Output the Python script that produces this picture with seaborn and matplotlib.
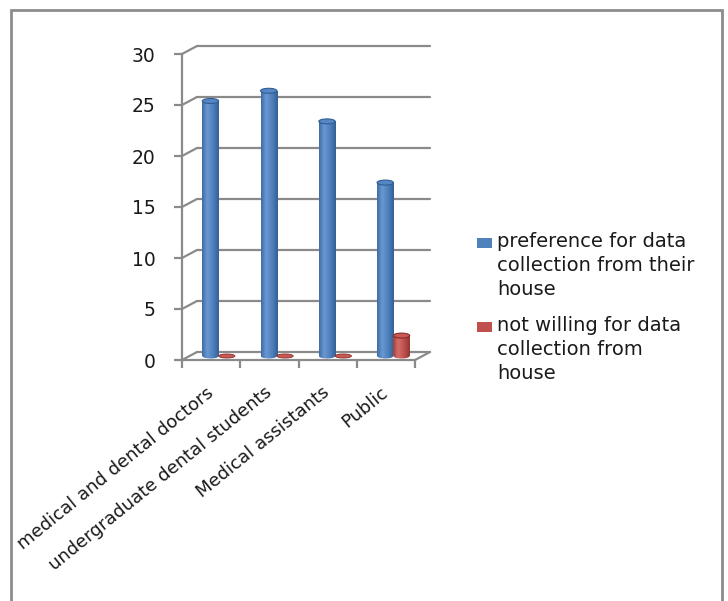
import numpy as np
import pandas as pd
import matplotlib
matplotlib.use("Agg")
import matplotlib.pyplot as plt
import seaborn as sns
from matplotlib.patches import Ellipse, Rectangle
from matplotlib.lines import Line2D
from matplotlib.colors import LinearSegmentedColormap

# ---------------- data ----------------
categories = ["medical and dental doctors", "undergraduate dental students",
              "Medical assistants", "Public"]
series_names = ["preference for data\ncollection from their\nhouse",
                "not willing for data\ncollection from\nhouse"]
preference = [25, 26, 23, 17]
not_willing = [0, 0, 0, 2]
y_ticks = [0, 5, 10, 15, 20, 25, 30]

df = pd.DataFrame({
    "category": categories * 2,
    "series": [series_names[0]] * len(categories) + [series_names[1]] * len(categories),
    "value": preference + not_willing,
})

# ---------------- style ----------------
sns.set_theme(style="white")
plt.rcParams["font.family"] = ["DejaVu Sans"]
W, H, DPI = 728, 601, 100
fig = plt.figure(figsize=(W / DPI, H / DPI), dpi=DPI)
fig.patch.set_facecolor("white")

def fx(px):
    return px / W

def fy(py):
    return 1 - py / H

GRID = "#8a8a8a"
TXT = "#1a1a1a"
colors = ["#4F81BD", "#C0504D"]

ax = fig.add_axes([fx(182), fy(360), fx(415) - fx(182), fy(54) - fy(360)])
sns.barplot(data=df, x="category", y="value", hue="series", palette=colors,
            width=0.56, saturation=1, ax=ax, legend=False, zorder=3)
ax.set_xlim(-0.5, len(categories) - 0.5)
ax.set_ylim(y_ticks[0], y_ticks[-1])
ax.set_xlabel("")
ax.set_ylabel("")
ax.set_facecolor("none")

# pixel -> data conversion for the pseudo-3D depth
ax_w_px = (415 - 182)
ax_h_px = (360 - 54)
px_x = ax_w_px / (len(categories))          # px per category unit
px_y = ax_h_px / (y_ticks[-1] - y_ticks[0])  # px per value unit
DX = 15 / px_x
DY = 8 / px_y
x_lo, x_hi = ax.get_xlim()

# back wall gridlines + left wall connectors
for t in y_ticks:
    ax.add_line(Line2D([x_lo + DX, x_hi + DX], [t + DY, t + DY], color=GRID,
                       lw=1.6, clip_on=False, zorder=1))
    ax.add_line(Line2D([x_lo, x_lo + DX], [t, t + DY], color=GRID,
                       lw=1.6, clip_on=False, zorder=1))
# floor right edge
ax.add_line(Line2D([x_hi, x_hi + DX], [0, DY], color=GRID, lw=1.6,
                   clip_on=False, zorder=1))

# spines
for s in ["top", "right"]:
    ax.spines[s].set_visible(False)
for s in ["left", "bottom"]:
    ax.spines[s].set_color(GRID)
    ax.spines[s].set_linewidth(1.6)

ax.set_yticks(y_ticks)
ax.set_yticklabels([str(t) for t in y_ticks], fontsize=13.5, color=TXT)
ax.tick_params(axis="y", direction="out", length=6, width=1.6, color=GRID, pad=13, left=True)

ax.set_xticks(range(len(categories)))
ax.set_xticklabels(categories, fontsize=13, color=TXT, rotation=39,
                   ha="right", rotation_mode="anchor", va="center")
ax.tick_params(axis="x", length=0, pad=22)
ax.set_xticks(np.arange(len(categories) + 1) - 0.5, minor=True)
ax.tick_params(axis="x", which="minor", direction="out", length=6, width=1.6,
               color=GRID, bottom=True)

# ---------------- cylinders ----------------
def grad_cmap(c_edge_l, c_light, c_mid, c_edge_r):
    return LinearSegmentedColormap.from_list(
        "g", [(0, c_edge_l), (0.3, c_light), (0.65, c_mid), (1, c_edge_r)])

cmaps = [grad_cmap("#3e6ba6", "#6a98d3", "#4f81bd", "#345f96"),
         grad_cmap("#a03f3c", "#d56e6a", "#c0504d", "#923532")]
cap_faces = ["#5686c4", "#c85955"]
cap_edges = ["#2f5d95", "#8a2b28"]
grad = np.linspace(0, 1, 64).reshape(1, -1)
EH = 5 / px_y  # ellipse height in data units

for cont, cm, cf, ce in zip(ax.containers, cmaps, cap_faces, cap_edges):
    for bar in cont:
        x0 = bar.get_x() + DX / 2
        w = bar.get_width()
        h = bar.get_height()
        y0 = DY / 2
        bar.set_x(x0)
        bar.set_y(y0)
        bar.set_edgecolor("none")
        xc = x0 + w / 2
        if h <= 0:
            bar.set_visible(False)
            ax.add_patch(Ellipse((xc, y0), w, EH * 0.8, facecolor=cf,
                                 edgecolor=ce, lw=0.6, zorder=4, clip_on=False))
            continue
        # bottom rounding
        bot = Ellipse((xc, y0), w, EH, facecolor="none", edgecolor="none",
                      zorder=3, clip_on=False)
        ax.add_patch(bot)
        im = ax.imshow(grad, extent=[x0, x0 + w, y0 - EH, y0 + h], aspect="auto",
                       cmap=cm, interpolation="bicubic", zorder=3.2)
        im.set_clip_path(bot)
        im2 = ax.imshow(grad, extent=[x0, x0 + w, y0, y0 + h], aspect="auto",
                        cmap=cm, interpolation="bicubic", zorder=3.3)
        im2.set_clip_path(bar)
        # top cap
        ax.add_patch(Ellipse((xc, y0 + h), w, EH, facecolor=cf, edgecolor=ce,
                             lw=0.8, zorder=3.5, clip_on=False))

ax.set_xlim(x_lo, x_hi)
ax.set_ylim(y_ticks[0], y_ticks[-1])

# ---------------- legend (Excel-like, handle at first line) ----------------
leg_y = [243, 327]
for name, col, yy in zip(series_names, colors, leg_y):
    fig.add_artist(Rectangle((fx(477), fy(yy + 5)), fx(492) - fx(477),
                             fy(yy - 5) - fy(yy + 5), transform=fig.transFigure,
                             facecolor=col, edgecolor="none"))
    fig.text(fx(497), fy(yy - 11), name, fontsize=14, color=TXT,
             ha="left", va="top", linespacing=1.32)

# outer frame
fig.add_artist(Rectangle((fx(11), -0.05), fx(722) - fx(11), fy(10) + 0.05,
                         transform=fig.transFigure, facecolor="none",
                         edgecolor="#8c8c8c", lw=2))

fig.savefig("out.png", dpi=DPI)
